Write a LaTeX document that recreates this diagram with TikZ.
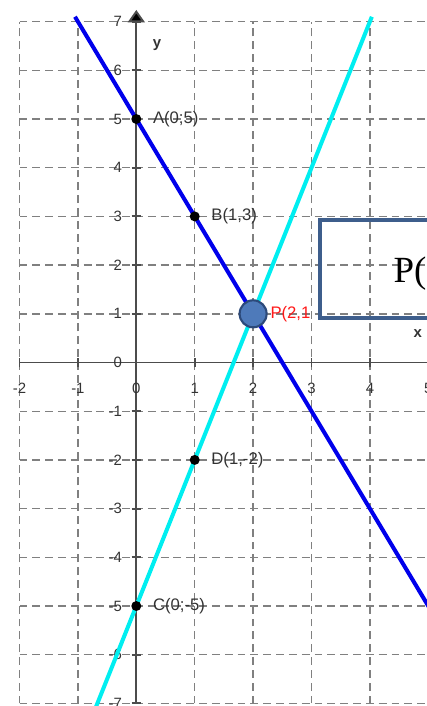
\documentclass[tikz,border=0pt]{standalone}
\usepackage{fontspec}
\setmainfont{Liberation Serif}
\setsansfont{Liberation Sans}
\usepackage{tikz}
\usetikzlibrary{arrows.meta,positioning}
\definecolor{lineblue}{RGB}{0,0,235}
\definecolor{linecyan}{RGB}{0,238,240}
\definecolor{boxblue}{RGB}{62,94,140}
\definecolor{pfill}{RGB}{78,122,186}
\definecolor{pdraw}{RGB}{44,74,122}
\tikzstyle{dot}=[circle,fill=black,inner sep=0pt,minimum size=0.2cm]
\tikzstyle{ptlabel}=[inner sep=0pt,text=black!80,font=\sffamily\fontsize{9.5}{11}\selectfont]
\tikzstyle{ticklabel}=[inner sep=0pt,text=black!80,font=\sffamily\fontsize{8.5}{10}\selectfont]

\begin{document}
\begin{tikzpicture}[x=1.168cm,y=0.974cm,
gridline/.style={draw=black!50,line width=0.8pt,dash pattern=on 4.5pt off 2.8pt},
axis/.style={draw=black!70,line width=1.1pt},
graph/.style={line width=2.3pt},
pnode/.style={circle,fill=pfill,draw=pdraw,line width=1.2pt,minimum size=0.54cm,inner sep=0pt},
resbox/.style={draw=boxblue,line width=2.3pt}]
\useasboundingbox (-2.334,-7.053) rectangle (4.961,7.444);
% grid
\foreach \i in {-2,-1,1,2,3,4}
    \draw[gridline] (\i,-7) -- (\i,7);
\foreach \j in {-7,...,-1,1,2,...,7}
    \draw[gridline] (-2,\j) -- (5.3,\j);
% axes
\coordinate (xs) at (-2,0);
\coordinate (xe) at (5.2,0);
\coordinate (ys) at (0,-7);
\coordinate (ye) at (0,7.24);
\draw[axis,-{Triangle[length=0.25cm,width=0.34cm,fill=black]}] (xs) -- (xe);
\draw[axis,-{Triangle[length=0.25cm,width=0.34cm,fill=black]}] (ys) -- (ye);
\foreach \i in {-2,-1,1,2,3,4}
    \draw[axis] (\i,-0.1) -- (\i,0.1);
\foreach \j in {-7,...,-1,1,2,...,7}
    \draw[axis] (-0.08,\j) -- (0.08,\j);
\foreach \j in {-7,...,7}
    \node[ticklabel,anchor=east] (ly\j) at (-0.24,\j) {\j};
\foreach \i in {-2,...,5}
    \node[ticklabel] (lx\i) at (\i,-0.53) {\i};
\node[ticklabel,font=\sffamily\bfseries\fontsize{8.5}{10}\selectfont] (xlab) at (4.82,0.585) {x};
\node[ticklabel,font=\sffamily\bfseries\fontsize{8.5}{10}\selectfont] (ylab) at (0.354,6.52) {y};
% the two lines
\coordinate (b1) at (-1.05,7.1);
\coordinate (b2) at (5.1,-5.2);
\coordinate (c1) at (-0.7,-7.1);
\coordinate (c2) at (4.033,7.1);
\draw[graph,draw=lineblue] (b1) -- (b2);
\draw[graph,draw=linecyan] (c1) -- (c2);
% points
\node[dot] (A) at (0,5) {};
\node[dot] (B) at (1,3) {};
\node[dot] (C) at (0,-5) {};
\node[dot] (D) at (1,-2) {};
\node[ptlabel,right=0.22cm of A] (lA) {A(0;5)};
\node[ptlabel,right=0.22cm of B] (lB) {B(1,3)};
\node[ptlabel,right=0.22cm of C] (lC) {C(0;-5)};
\node[ptlabel,right=0.22cm of D] (lD) {D(1,-2)};
\node[pnode] (P) at (2,1) {};
\node[ptlabel,text=red!90,right=0.05cm of P] (lP) {P(2,1};
% result box
\coordinate (r1) at (3.146,0.914);
\coordinate (r2) at (6.2,2.936);
\draw[resbox] (r1) rectangle (r2);
\node[anchor=base west,inner sep=0pt,font=\fontsize{21}{24}\selectfont] (res) at (4.40,1.653) {P(2,1)};
\end{tikzpicture}
\end{document}
